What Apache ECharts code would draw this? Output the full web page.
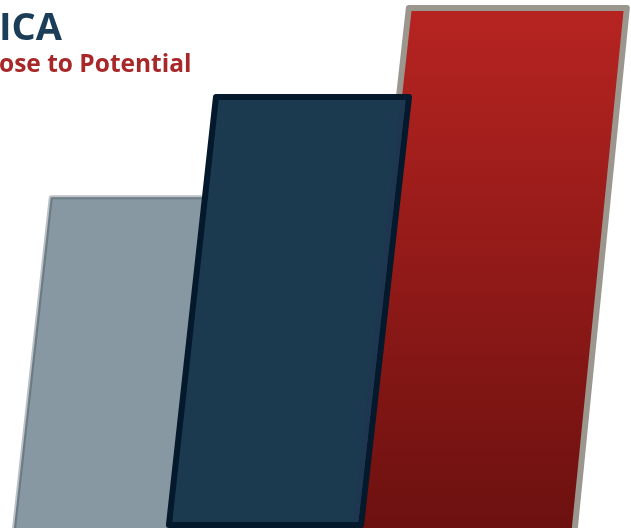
<!DOCTYPE html>
<html>
<head>
<meta charset="utf-8">
<script src="https://cdn.jsdelivr.net/npm/echarts@6/dist/echarts.min.js"></script>
<style>
html,body{margin:0;padding:0;background:#fff;}
#c{width:631px;height:528px;}
</style>
</head>
<body>
<div id="c"></div>
<script>
// ---- data ----
var categories = ['1', '2', '3'];
var values = [63.2, 82.8, 100];
var titleText = 'ICA';
var subtitleText = 'ose to Potential';

// ---- styles / layout (not data) ----
var barLayout = [
  { w: 175, shift: 34, ext: 20, z: 1, skewL: 0.111, skewR: 0.111 },
  { w: 193, shift: -3, ext: 0, z: 3, skewL: 0.110, skewR: 0.112 },
  { w: 218, shift: -8, ext: 20, z: 2, skewL: 0.111, skewR: 0.100 }
];

var chart = echarts.init(document.getElementById('c'), null, { renderer: 'canvas' });

function renderItem(params, api) {
  var i = api.value(0);
  var v = api.value(1);
  var top = api.coord([i, v]);
  var bot = api.coord([i, 0]);
  var L = barLayout[i];
  var cx = top[0] + L.shift;
  var x1 = cx - L.w / 2, x2 = cx + L.w / 2;
  var ty = top[1], by = bot[1] + L.ext;
  var h = by - ty;
  var pts = [[x1, ty], [x2, ty], [x2 - L.skewR * h, by], [x1 - L.skewL * h, by]];
  var children = [];
  if (i === 0) {
    children.push({ type: 'polygon', z2: L.z, shape: { points: pts },
      style: { fill: null, stroke: '#bcc1c6', lineWidth: 6, lineJoin: 'round' } });
    children.push({ type: 'polygon', z2: L.z, shape: { points: pts },
      style: { fill: '#8898a3', stroke: '#6c7c87', lineWidth: 2.2, lineJoin: 'round' } });
  } else if (i === 1) {
    children.push({ type: 'polygon', z2: L.z, shape: { points: pts },
      style: { fill: '#1b3a4f', stroke: '#04192b', lineWidth: 6, lineJoin: 'round' } });
    var ip = [[x2 - 6, ty + 4], [x2 - 6 - L.skewR * (h - 8), by - 4]];
    children.push({ type: 'polyline', z2: L.z, shape: { points: ip },
      style: { stroke: '#1e3650', lineWidth: 5 } });
  } else {
    children.push({ type: 'polygon', z2: L.z, shape: { points: pts },
      style: {
        fill: new echarts.graphic.LinearGradient(0, 0, 0, 1, [
          { offset: 0, color: '#b72421' },
          { offset: 1, color: '#69100f' }
        ]),
        stroke: '#9b978f', lineWidth: 6, lineJoin: 'round' } });
  }
  return { type: 'group', children: children };
}

var option = {
  animation: false,
  backgroundColor: '#ffffff',
  grid: { left: 0, right: 0, top: 8, bottom: 3 },
  xAxis: { type: 'category', data: categories, show: false },
  yAxis: { type: 'value', min: 0, max: 100, show: false },
  graphic: [
    { type: 'text', left: -1, top: 10, z: 10,
      style: { text: titleText, font: 'bold 38px "Open Sans"', fill: '#1b3d57' } },
    { type: 'text', left: -1, top: 53, z: 10,
      style: { text: subtitleText, font: 'bold 24.5px "Open Sans"', fill: '#a8282a' } }
  ],
  series: [{
    type: 'custom',
    renderItem: renderItem,
    data: categories.map(function (c, i) { return [i, values[i]]; })
  }]
};
chart.setOption(option);
</script>
</body>
</html>
